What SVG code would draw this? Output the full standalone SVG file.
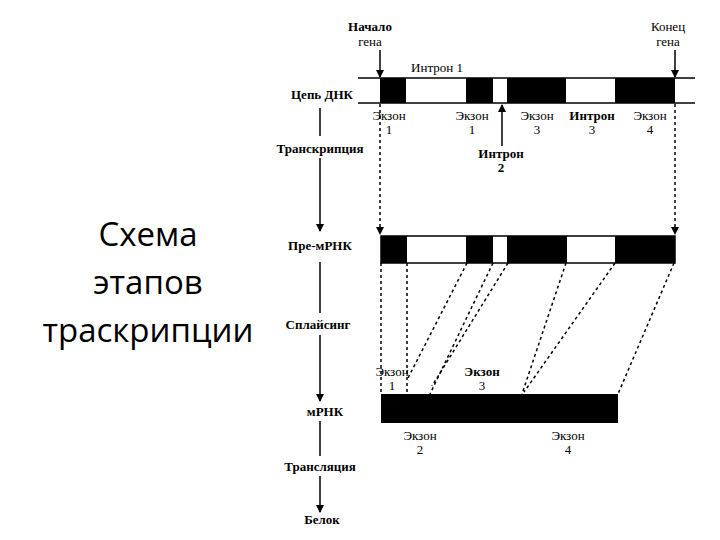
<svg xmlns="http://www.w3.org/2000/svg" width="720" height="540" viewBox="0 0 720 540">
<style>
.t{font-family:"Liberation Serif",serif;font-size:13px;text-anchor:middle;fill:#000}
.b{font-weight:bold}
.big{font-family:"Open Sans","Liberation Sans",sans-serif;font-size:33px;text-anchor:middle;fill:#000}
.s{stroke:#000;stroke-width:1.5;fill:none}
.d{stroke:#000;stroke-width:1.5;stroke-dasharray:3 3;fill:none}
</style>
<defs><marker id="a" markerWidth="8" markerHeight="10" refX="7" refY="5" orient="auto" markerUnits="userSpaceOnUse"><path d="M0,1 L8,5 L0,9 Z" fill="#000"/></marker></defs>
<rect width="720" height="540" fill="#fff"/>
<g id="title"><text class="big" x="148" y="246">Схема</text><text class="big" x="148" y="294">этапов</text><text class="big" x="148" y="342">траскрипции</text></g>
<g id="flow">
<text class="t b" x="322" y="99">Цепь ДНК</text>
<text class="t b" x="320" y="153">Транскрипция</text>
<text class="t b" x="320" y="250">Пре-мРНК</text>
<text class="t b" x="318" y="329">Сплайсинг</text>
<text class="t b" x="325" y="416">мРНК</text>
<text class="t b" x="320" y="471">Трансляция</text>
<text class="t b" x="322" y="524">Белок</text>
</g>
<g id="dna">
<line class="s" x1="358" y1="78" x2="695" y2="78"/><line class="s" x1="358" y1="103" x2="695" y2="103"/>
<rect x="380" y="78" width="26" height="25"/><rect x="466" y="78" width="27" height="25"/><rect x="507" y="78" width="59" height="25"/><rect x="615" y="78" width="60" height="25"/>
<text class="t b" x="370" y="31">Начало</text><text class="t" x="370" y="46">гена</text>
<text class="t" x="668" y="31">Конец</text><text class="t" x="668" y="46">гена</text>
<text class="t" x="437" y="72">Интрон 1</text>
<text class="t" x="389" y="120">Экзон</text><text class="t" x="389" y="134">1</text>
<text class="t" x="472" y="120">Экзон</text><text class="t" x="472" y="134">1</text>
<text class="t" x="537" y="120">Экзон</text><text class="t" x="537" y="134">3</text>
<text class="t b" x="592" y="120">Интрон</text><text class="t" x="592" y="134">3</text>
<text class="t" x="650" y="120">Экзон</text><text class="t" x="650" y="134">4</text>
<text class="t b" x="501" y="158">Интрон</text><text class="t b" x="501" y="172">2</text>
</g>
<g id="premrna">
<rect x="381" y="236" width="294" height="27" fill="#fff" stroke="#000" stroke-width="1.5"/>
<rect x="381" y="236" width="26" height="27"/><rect x="466" y="236" width="27" height="27"/><rect x="507" y="236" width="60" height="27"/><rect x="615" y="236" width="60" height="27"/>
</g>
<g id="mrna">
<rect x="381" y="394" width="237" height="29"/>
<text class="t" x="392" y="376">Экзон</text><text class="t" x="392" y="390">1</text>
<text class="t b" x="482" y="376">Экзон</text><text class="t" x="482" y="390">3</text>
<text class="t" x="420" y="440">Экзон</text><text class="t" x="420" y="454">2</text>
<text class="t" x="568" y="440">Экзон</text><text class="t" x="568" y="454">4</text>
</g>
<g id="connectors">
<line class="s" x1="320" y1="108" x2="320" y2="136"/>
<line class="s" x1="320" y1="158" x2="320" y2="231" marker-end="url(#a)"/>
<line class="s" x1="320" y1="262" x2="320" y2="313"/>
<line class="s" x1="320" y1="335" x2="320" y2="401" marker-end="url(#a)"/>
<line class="s" x1="320" y1="421" x2="320" y2="456"/>
<line class="s" x1="320" y1="476" x2="320" y2="512" marker-end="url(#a)"/>
<line class="s" x1="380" y1="50" x2="380" y2="77" marker-end="url(#a)"/>
<line class="s" x1="675" y1="50" x2="675" y2="77" marker-end="url(#a)"/>
<line class="s" x1="502" y1="146" x2="502" y2="105" marker-end="url(#a)"/>
<line class="d" x1="380" y1="104" x2="380" y2="234" marker-end="url(#a)"/>
<line class="d" x1="675" y1="104" x2="675" y2="234" marker-end="url(#a)"/>
<line class="d" x1="381" y1="263" x2="381" y2="394"/>
<line class="d" x1="407" y1="263" x2="407" y2="394"/>
<line class="d" x1="467" y1="263" x2="408" y2="378"/>
<line class="d" x1="493" y1="263" x2="430" y2="394"/>
<line class="d" x1="508" y1="263" x2="432" y2="386"/>
<line class="d" x1="566" y1="263" x2="522" y2="394"/>
<line class="d" x1="615" y1="263" x2="524" y2="392"/>
<line class="d" x1="674" y1="263" x2="618" y2="394"/>
</g>
</svg>
